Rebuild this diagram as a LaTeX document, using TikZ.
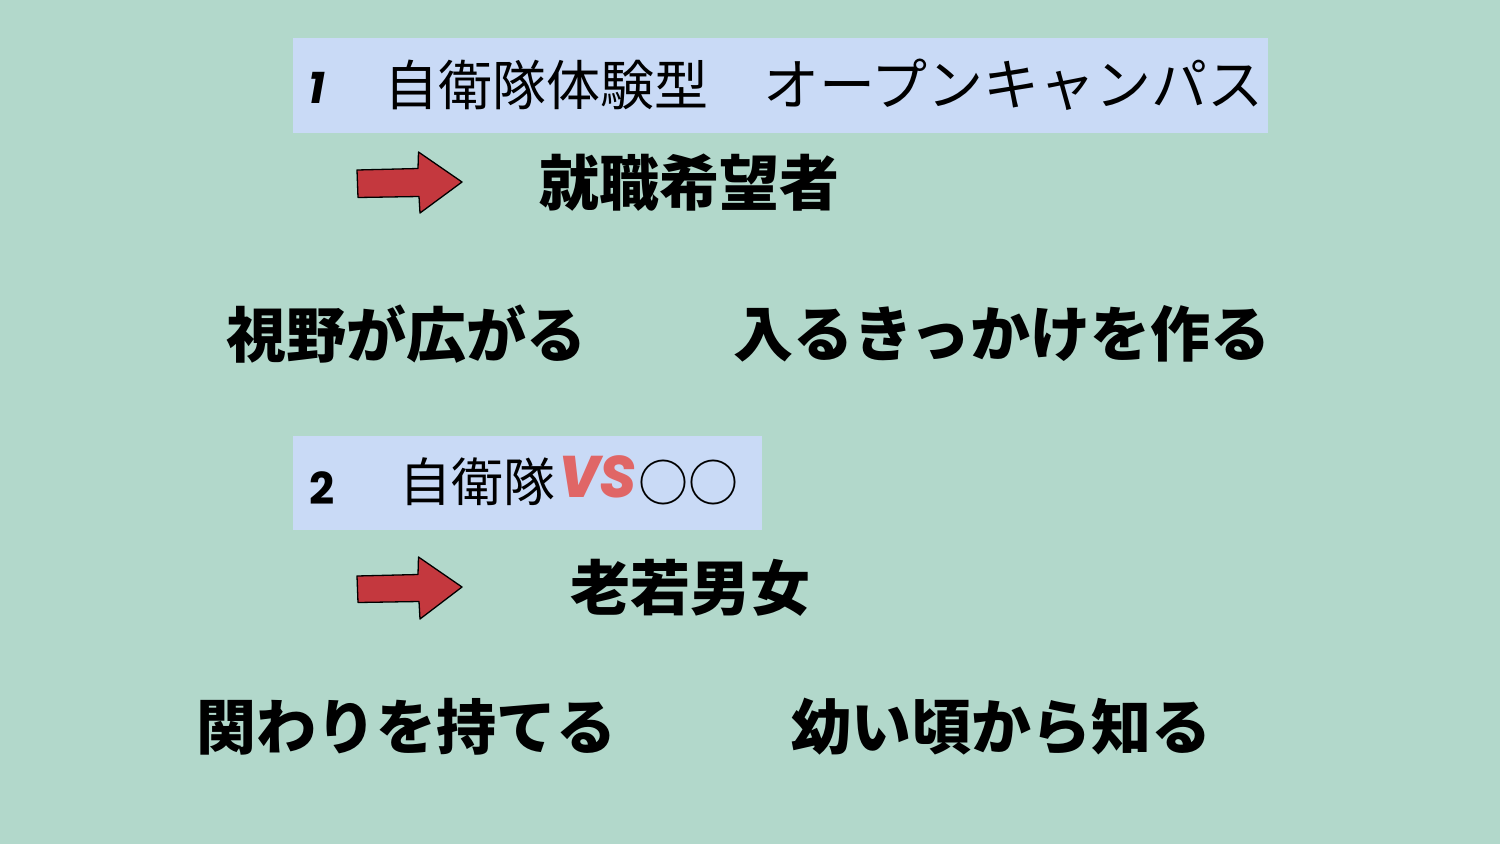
\documentclass[tikz,border=0pt]{standalone}
\usepackage{fontspec}
\newfontfamily\cjk{Noto Sans CJK JP}
\newfontfamily\pop{Poppins}
\definecolor{bgc}{HTML}{B2D8CB}
\definecolor{boxc}{HTML}{C9DAF6}
\definecolor{arrowred}{HTML}{C4383E}
\definecolor{vsred}{HTML}{E06666}
\tikzset{
  titlebox/.style={fill=boxc, draw=none},
  bigtxt/.style={anchor=west, inner sep=0pt, font=\cjk\bfseries\fontsize{60}{60}\selectfont},
  titletxt/.style={anchor=west, inner sep=0pt},
  numtxt/.style={anchor=west, inner sep=0pt},
  redarrow/.style={fill=arrowred, draw=black, line width=1.3pt, line join=round}
}
\begin{document}
\begin{tikzpicture}[x=1pt,y=-1pt]
\fill[bgc] (0,0) rectangle (1500,844);
\useasboundingbox (0,0) rectangle (1500,844);
% box 1
\fill[titlebox] (293,38) rectangle (1268,133);
\node[numtxt, font=\pop\bfseries\itshape\fontsize{44}{44}\selectfont] (n1) at (308,88) {1};
\node[titletxt, font=\cjk\fontsize{54}{54}\selectfont] (t1a) at (384,85) {自衛隊体験型};
\node[titletxt, font=\cjk\fontsize{56}{56}\selectfont] (t1b) at (763,85) {オープンキャンパス};
% arrow 1
\draw[redarrow] (357,170) -- (418,168.5) -- (418.5,152) -- (462,182) -- (420,213) -- (419,196.5) -- (358,197.5) -- cycle;
\node[bigtxt] (a1) at (539,183) {就職希望者};
\node[bigtxt] (b1) at (226,334) {視野が広がる};
\node[bigtxt] (c1) at (733,334) {入るきっかけを作る};
% box 2
\fill[titlebox] (293,436) rectangle (762,530);
\node[numtxt, font=\pop\bfseries\fontsize{44}{44}\selectfont] (n2) at (309,488) {2};
\node[titletxt, font=\cjk\fontsize{52}{52}\selectfont] (t2a) at (399,482) {自衛隊};
\node[titletxt, font=\pop\bfseries\itshape\fontsize{74}{74}\selectfont, text=vsred, xscale=0.9] (vs) at (559,477) {vs};
\node[titletxt, font=\cjk\fontsize{50}{50}\selectfont] (t2c) at (638,482) {○○};
% arrow 2
\draw[redarrow] (357,576) -- (418,574.5) -- (418.5,557) -- (462,587) -- (420,619) -- (419,601.5) -- (358,602.5) -- cycle;
\node[bigtxt] (a2) at (570,588) {老若男女};
\node[bigtxt] (b2) at (196,727) {関わりを持てる};
\node[bigtxt] (c2) at (791,727) {幼い頃から知る};
\end{tikzpicture}
\end{document}
